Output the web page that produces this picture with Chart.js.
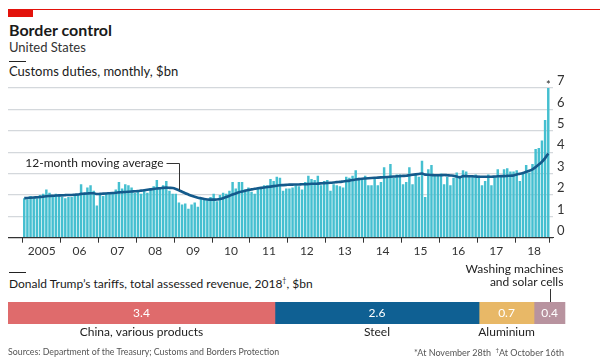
<!DOCTYPE html>
<html>
<head>
<meta charset="utf-8">
<script src="https://cdn.jsdelivr.net/npm/chart.js@4"></script>
<style>
  body { margin: 0; background: #fff; font-family: 'Lato', sans-serif; color: #1a1a1a; }
  #page { position: relative; width: 600px; height: 363px; overflow: hidden; }
  .abs { position: absolute; white-space: nowrap; }
  canvas { position: absolute; left: 0; display: block; }
</style>
</head>
<body>
<div id="page">
  <div class="abs" style="left:8px; top:9px; right:0; height:1px; background:#e3120b;"></div>
  <div class="abs" style="left:8px; top:10px; width:25px; height:7px; background:#e3120b;"></div>
  <div class="abs" style="left:9px; top:20px; font-size:16px; font-weight:bold;">Border control</div>
  <div class="abs" style="left:9px; top:39px; font-size:13px; color:#333;">United States</div>
  <div class="abs" style="left:9px; top:61px; width:17px; height:1px; background:#222;"></div>
  <div class="abs" style="left:9px; top:63px; font-size:13px;">Customs duties, monthly, $bn</div>

  <canvas id="duties" width="600" height="190" style="top:70px;"></canvas>

  <div class="abs" style="left:9px; top:272px; width:17px; height:1px; background:#222;"></div>
  <div class="abs" style="left:9px; top:276px; font-size:12px;">Donald Trump’s tariffs, total assessed revenue, 2018<sup style="font-size:7px;">†</sup>, $bn</div>

  <canvas id="tariffs" width="600" height="86" style="top:262px;"></canvas>

  <div class="abs" style="left:8px; top:346px; font-size:8.8px; color:#555;">Sources: Department of the Treasury; Customs and Borders Protection</div>
  <div class="abs" style="right:36px; top:346px; font-size:9px; color:#555;">*At November 28th&nbsp;&nbsp;<sup style="font-size:6px;">†</sup>At October 16th</div>
</div>

<script>
// monthly customs duties, Jan 2005 - Nov 2018, $bn
const customsDuties = [
  1.85, 1.8, 1.95, 1.9, 1.85, 2.0, 2.05, 2.25, 2.1, 2.0, 2.05, 1.95,   // 2005
  1.9, 1.85, 1.9, 1.9, 1.95, 2.0, 2.5, 2.1, 2.35, 2.45, 2.2, 1.5,      // 2006
  2.05, 1.95, 2.1, 2.05, 2.1, 2.25, 2.6, 2.3, 2.5, 2.45, 2.35, 2.1,    // 2007
  2.15, 2.05, 2.2, 2.1, 2.3, 2.4, 2.7, 2.35, 2.45, 2.65, 2.2, 2.05,    // 2008
  2.05, 1.65, 1.55, 1.6, 1.35, 1.55, 1.65, 1.45, 1.85, 1.8, 1.75, 1.9, // 2009
  2.05, 1.7, 2.0, 2.1, 2.05, 2.2, 2.6, 2.3, 2.6, 2.6, 2.25, 2.35,      // 2010
  2.15, 2.05, 2.3, 2.35, 2.45, 2.45, 2.75, 2.65, 2.85, 2.8, 2.2, 2.3,  // 2011
  2.3, 2.35, 2.45, 2.4, 2.25, 2.6, 2.9, 2.75, 2.7, 2.9, 2.45, 2.65,    // 2012
  2.7, 2.2, 2.5, 2.45, 2.4, 2.35, 2.85, 2.8, 2.9, 3.15, 2.8, 2.75,     // 2013
  2.9, 2.45, 2.45, 2.8, 2.45, 2.6, 3.3, 2.8, 3.45, 2.8, 2.95, 2.95,    // 2014
  2.5, 2.6, 3.3, 2.5, 2.95, 2.85, 3.6, 1.9, 3.2, 3.4, 2.9, 2.95,       // 2015
  3.0, 2.5, 2.85, 2.45, 2.8, 3.05, 2.9, 3.15, 3.1, 2.9, 2.85, 2.95,    // 2016
  2.9, 2.45, 2.65, 2.95, 2.45, 2.85, 3.2, 2.9, 3.2, 3.25, 3.1, 3.1,    // 2017
  3.15, 2.65, 3.0, 3.4, 3.05, 3.45, 4.15, 4.2, 4.55, 5.5, 7.0          // 2018
];

// 12-month moving average
const movingAverage = [
  1.85, 1.86, 1.87, 1.88, 1.89, 1.9, 1.92, 1.94, 1.95, 1.96, 1.97, 1.98,
  1.98, 1.99, 2.0, 2.0, 2.01, 2.02, 2.05, 2.06, 2.07, 2.08, 2.08, 2.04,
  2.05, 2.06, 2.07, 2.08, 2.09, 2.1, 2.12, 2.13, 2.14, 2.15, 2.16, 2.17,
  2.18, 2.2, 2.22, 2.24, 2.26, 2.28, 2.3, 2.31, 2.33, 2.34, 2.33, 2.32,
  2.28, 2.22, 2.15, 2.08, 2.02, 1.96, 1.91, 1.87, 1.84, 1.81, 1.79, 1.78,
  1.78, 1.79, 1.81, 1.85, 1.9, 1.96, 2.02, 2.07, 2.12, 2.16, 2.2, 2.23,
  2.26, 2.29, 2.31, 2.33, 2.35, 2.37, 2.39, 2.41, 2.43, 2.45, 2.46, 2.47,
  2.48, 2.48, 2.49, 2.49, 2.5, 2.5, 2.51, 2.52, 2.52, 2.53, 2.54, 2.55,
  2.56, 2.57, 2.58, 2.6, 2.61, 2.63, 2.65, 2.67, 2.7, 2.72, 2.74, 2.76,
  2.77, 2.78, 2.79, 2.8, 2.81, 2.82, 2.83, 2.84, 2.85, 2.86, 2.87, 2.88,
  2.89, 2.9, 2.92, 2.94, 2.96, 2.98, 3.0, 2.95, 2.94, 2.93, 2.92, 2.92,
  2.92, 2.93, 2.92, 2.91, 2.9, 2.86, 2.82, 2.88, 2.88, 2.87, 2.87, 2.86,
  2.85, 2.85, 2.85, 2.85, 2.85, 2.86, 2.87, 2.88, 2.88, 2.89, 2.9, 2.91,
  2.96, 2.99, 3.03, 3.08, 3.13, 3.2, 3.3, 3.42, 3.55, 3.72, 3.94
];

const yearLabels = ['2005', '06', '07', '08', '09', '10', '11', '12', '13', '14', '15', '16', '17', '18'];
const yTicks = [0, 1, 2, 3, 4, 5, 6, 7];

const tariffNames = ['China, various products', 'Steel', 'Aluminium', 'Washing machines\nand solar cells'];
const tariffRevenue = [3.4, 2.6, 0.7, 0.4];
const tariffColours = ['#df6b6c', '#0f6093', '#e8b867', '#b8939f'];

// where the "12-month moving average" label points
const maLabelMonth = 49;
const maLabelLevel = 3.5;

Chart.defaults.font.family = 'Lato';
Chart.defaults.color = '#333';
Chart.defaults.animation = false;

const dutiesNotes = {
    id: 'dutiesNotes',
    afterDatasetsDraw(chart) {
        const ctx = chart.ctx;
        const x = chart.scales.x;
        const y = chart.scales.y;
        const lx = Math.round(x.getPixelForValue(maLabelMonth + 0.5)) + 0.5;
        const ly = Math.round(y.getPixelForValue(maLabelLevel)) + 0.5;
        const ty = y.getPixelForValue(movingAverage[maLabelMonth]);
        ctx.save();
        ctx.strokeStyle = '#333';
        ctx.lineWidth = 1;
        ctx.beginPath();
        ctx.moveTo(lx - 13, ly);
        ctx.lineTo(lx, ly);
        ctx.lineTo(lx, ty);
        ctx.stroke();
        ctx.fillStyle = '#222';
        ctx.font = '12px Lato';
        ctx.textAlign = 'right';
        ctx.textBaseline = 'middle';
        ctx.fillText('12-month moving average', lx - 16, ly);

        const last = customsDuties.length - 1;
        ctx.textAlign = 'center';
        ctx.font = '11px Lato';
        ctx.fillText('*', x.getPixelForValue(last + 0.5), y.getPixelForValue(customsDuties[last]) - 3);
        ctx.restore();
    }
};

const yearStarts = yearLabels.map((lab, i) => i * 12);

new Chart(document.getElementById('duties'), {
    data: {
        datasets: [{
            type: 'line',
            data: movingAverage.map((v, i) => ({ x: i + 0.5, y: v })),
            borderColor: '#145a8b',
            borderWidth: 2.6,
            pointRadius: 0,
            cubicInterpolationMode: 'monotone',
            order: 0
        }, {
            type: 'bar',
            data: customsDuties.map((v, i) => ({ x: i + 0.5, y: v })),
            backgroundColor: '#45bfd0',
            barPercentage: 0.78,
            categoryPercentage: 1,
            order: 1
        }]
    },
    options: {
        responsive: false,
        layout: { padding: { left: 8, top: 18, right: 0, bottom: 0 } },
        plugins: { legend: { display: false }, tooltip: { enabled: false } },
        scales: {
            x: {
                type: 'linear',
                offset: false,
                min: -4.65,
                max: 168,
                afterBuildTicks(scale) {
                    scale.ticks = yearStarts.concat([customsDuties.length]).map(v => ({ value: v }));
                },
                afterFit(scale) { scale.height = 22.3; },
                grid: { offset: false, drawOnChartArea: false, drawTicks: true, tickLength: 5, color: '#333' },
                border: { display: true, color: '#333', width: 1 },
                ticks: {
                    autoSkip: false,
                    maxRotation: 0,
                    labelOffset: 19,
                    padding: 1,
                    font: { size: 12 },
                    color: '#333',
                    callback: (v) => yearLabels[v / 12] !== undefined && v % 12 === 0 ? yearLabels[v / 12] : ''
                }
            },
            y: {
                position: 'right',
                min: 0,
                max: 7,
                afterBuildTicks(scale) { scale.ticks = yTicks.map(v => ({ value: v })); },
                afterFit(scale) { scale.width = 47; },
                grid: {
                    drawTicks: false,
                    color: (c) => c.tick.value === 0 ? '#333' : '#d4d8dc',
                    lineWidth: 1.2
                },
                border: { display: false },
                ticks: { padding: 4, labelOffset: -7, font: { size: 13 }, color: '#333' }
            }
        }
    },
    plugins: [dutiesNotes]
});

const tariffNotes = {
    id: 'tariffNotes',
    afterDatasetsDraw(chart) {
        const ctx = chart.ctx;
        ctx.save();
        chart.data.datasets.forEach((ds, i) => {
            const bar = chart.getDatasetMeta(i).data[0];
            const cx = (bar.x + bar.base) / 2;
            const top = bar.y - bar.height / 2;
            ctx.fillStyle = '#fff';
            ctx.font = '12px Lato';
            ctx.textAlign = 'center';
            ctx.textBaseline = 'middle';
            ctx.fillText(String(tariffRevenue[i]), cx, bar.y);
            const lines = tariffNames[i].split('\n');
            ctx.fillStyle = '#222';
            ctx.font = '12px Lato';
            if (lines.length === 1) {
                ctx.fillText(lines[0], cx, bar.y + bar.height / 2 + 8);
            } else {
                ctx.textAlign = 'right';
                ctx.fillText(lines[0], bar.x - 2, top - 33);
                ctx.fillText(lines[1], bar.x - 2, top - 20);
                ctx.strokeStyle = '#333';
                ctx.lineWidth = 1;
                ctx.beginPath();
                ctx.moveTo(Math.round(cx) + 0.5, top - 13);
                ctx.lineTo(Math.round(cx) + 0.5, top);
                ctx.stroke();
            }
        });
        ctx.restore();
    }
};

new Chart(document.getElementById('tariffs'), {
    type: 'bar',
    data: {
        labels: ['2018'],
        datasets: tariffRevenue.map((v, i) => ({
            label: tariffNames[i],
            data: [v],
            backgroundColor: tariffColours[i],
            barPercentage: 1,
            categoryPercentage: 1,
            borderWidth: 0
        }))
    },
    options: {
        responsive: false,
        indexAxis: 'y',
        layout: { padding: { left: 8, right: 34.6, top: 40, bottom: 24 } },
        plugins: { legend: { display: false }, tooltip: { enabled: false } },
        scales: {
            x: { stacked: true, display: false, min: 0, max: 7.1 },
            y: { stacked: true, display: false }
        }
    },
    plugins: [tariffNotes]
});
</script>
</body>
</html>
